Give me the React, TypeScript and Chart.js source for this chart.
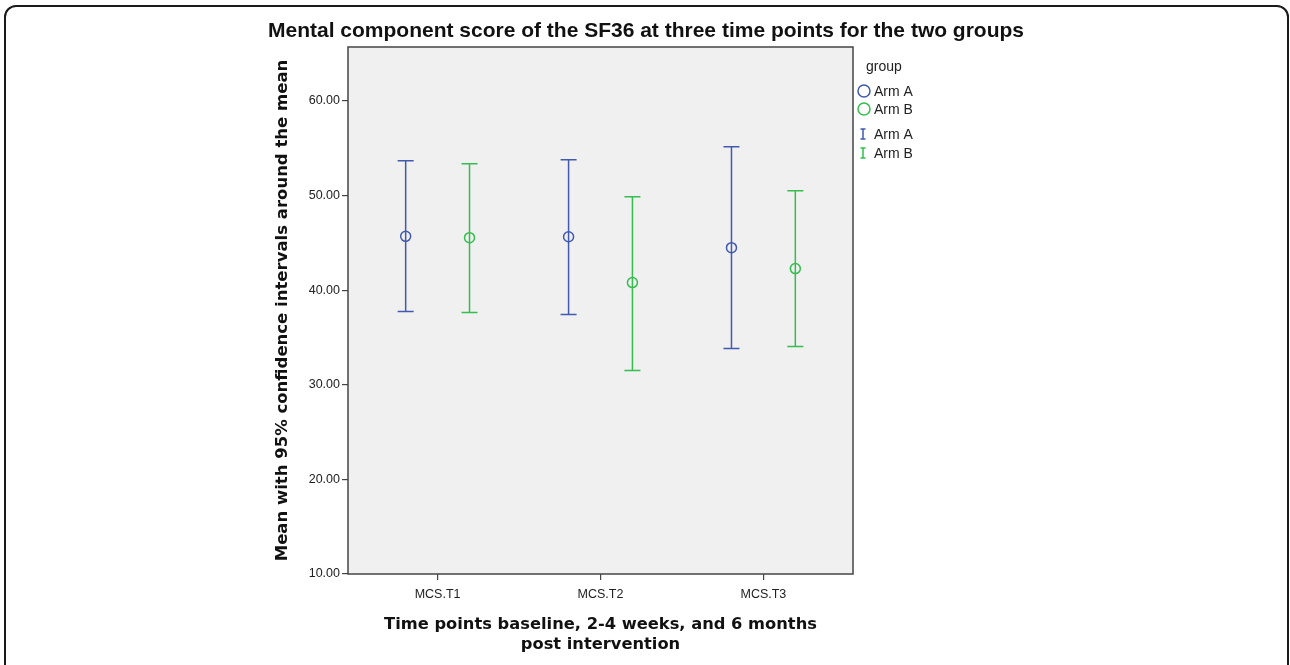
import React, { useEffect, useRef } from 'react';
import { Chart, registerables } from 'chart.js';

Chart.register(...registerables);

const categories = ['MCS.T1', 'MCS.T2', 'MCS.T3'];
const groups = ['Arm A', 'Arm B'];
const armAMean = [45.69, 45.65, 44.49];
const armALower = [37.74, 37.43, 33.84];
const armAUpper = [53.67, 53.78, 55.15];
const armBMean = [45.55, 40.8, 42.28];
const armBLower = [37.64, 31.52, 34.05];
const armBUpper = [53.35, 49.87, 50.51];
const yTicks = [10, 20, 30, 40, 50, 60];

const chartTitle = 'Mental component score of the SF36 at three time points for the two groups';
const xTitle = ['Time points baseline, 2-4 weeks, and 6 months', 'post intervention'];
const yTitle = 'Mean with 95% confidence intervals around the mean';
const legendTitle = 'group';

const BLUE = '#4259b0';
const GREEN = '#35bd4e';
const GROUP_OFFSET = 0.196;
const AXIS_FONT = '"Liberation Sans", Arial, sans-serif';
const BOLD_FONT = '"DejaVu Sans", Verdana, sans-serif';

const errorBarPlugin = {
  id: 'errorBars',
  beforeDraw(chart: any) {
    const { ctx, chartArea } = chart;
    ctx.save();
    ctx.fillStyle = '#f0f0f0';
    ctx.fillRect(chartArea.left, chartArea.top, chartArea.right - chartArea.left, chartArea.bottom - chartArea.top);
    ctx.restore();
  },
  beforeDatasetsDraw(chart: any) {
    const { ctx } = chart;
    const xs = chart.scales.x;
    const ys = chart.scales.y;
    ctx.save();
    chart.data.datasets.forEach((ds: any) => {
      ctx.strokeStyle = ds.borderColor;
      ctx.lineWidth = 1.5;
      ds.data.forEach((p: any) => {
        const px = xs.getPixelForValue(p.x);
        const pLo = ys.getPixelForValue(p.lo);
        const pHi = ys.getPixelForValue(p.hi);
        ctx.beginPath();
        ctx.moveTo(px, pLo);
        ctx.lineTo(px, pHi);
        ctx.moveTo(px - 8, pLo);
        ctx.lineTo(px + 8, pLo);
        ctx.moveTo(px - 8, pHi);
        ctx.lineTo(px + 8, pHi);
        ctx.stroke();
      });
    });
    ctx.restore();
  },
  afterDraw(chart: any) {
    const { ctx, chartArea } = chart;
    ctx.save();
    // plot frame
    ctx.strokeStyle = '#444';
    ctx.lineWidth = 1.5;
    ctx.strokeRect(chartArea.left, chartArea.top, chartArea.right - chartArea.left, chartArea.bottom - chartArea.top);

    // main title
    ctx.fillStyle = '#111';
    ctx.font = 'bold 21px ' + AXIS_FONT;
    ctx.textAlign = 'center';
    ctx.textBaseline = 'middle';
    ctx.fillText(chartTitle, chart.width / 2 + 1, 31);

    // legend
    const r = chartArea.right;
    const t = chartArea.top;
    ctx.textAlign = 'left';
    ctx.font = '14px ' + AXIS_FONT;
    ctx.fillStyle = '#222';
    ctx.fillText(legendTitle, r + 13, t + 20);
    const colors = [BLUE, GREEN];
    const circleY = [t + 44, t + 62];
    const barY = [t + 87, t + 106];
    groups.forEach((g, i) => {
      ctx.strokeStyle = colors[i];
      ctx.lineWidth = 1.5;
      ctx.beginPath();
      ctx.arc(r + 11, circleY[i], 6, 0, Math.PI * 2);
      ctx.stroke();
      ctx.fillStyle = '#222';
      ctx.font = '14px ' + AXIS_FONT;
      ctx.fillText(g, r + 21, circleY[i] + 1);
    });
    groups.forEach((g, i) => {
      const y = barY[i];
      ctx.strokeStyle = colors[i];
      ctx.lineWidth = 1.5;
      ctx.beginPath();
      ctx.moveTo(r + 10, y - 5);
      ctx.lineTo(r + 10, y + 5);
      ctx.moveTo(r + 7.5, y - 5);
      ctx.lineTo(r + 12.5, y - 5);
      ctx.moveTo(r + 7.5, y + 5);
      ctx.lineTo(r + 12.5, y + 5);
      ctx.stroke();
      ctx.fillStyle = '#222';
      ctx.fillText(g, r + 21, y + 1);
    });
    ctx.restore();
  },
};

export default function App() {
  const canvasRef = useRef<HTMLCanvasElement | null>(null);

  useEffect(() => {
    if (!canvasRef.current) return;
    const makeData = (mean: number[], lo: number[], hi: number[], off: number) =>
      mean.map((v, i) => ({ x: i + 1 + off, y: v, lo: lo[i], hi: hi[i] }));

    const chart = new Chart(canvasRef.current, {
      type: 'scatter',
      data: {
        datasets: [
          {
            label: groups[0],
            data: makeData(armAMean, armALower, armAUpper, -GROUP_OFFSET),
            borderColor: BLUE,
            backgroundColor: 'rgba(0,0,0,0)',
            pointRadius: 5,
            pointBorderWidth: 1.5,
          },
          {
            label: groups[1],
            data: makeData(armBMean, armBLower, armBUpper, GROUP_OFFSET),
            borderColor: GREEN,
            backgroundColor: 'rgba(0,0,0,0)',
            pointRadius: 5,
            pointBorderWidth: 1.5,
          },
        ] as any,
      },
      options: {
        responsive: false,
        animation: false,
        layout: { padding: { left: 269, right: 437, top: 47, bottom: 0 } },
        plugins: {
          legend: { display: false },
          tooltip: { enabled: false },
          title: { display: false },
        },
        scales: {
          x: {
            type: 'linear',
            min: 0.45,
            max: 3.55,
            afterBuildTicks: (scale: any) => {
              scale.ticks = categories.map((_, i) => ({ value: i + 1 }));
            },
            afterFit: (scale: any) => {
              scale.height = 91;
            },
            border: { display: false },
            grid: { drawOnChartArea: false, drawTicks: true, tickLength: 6, color: '#444', lineWidth: 1.2 },
            ticks: {
              padding: 7,
              color: '#222',
              font: { family: AXIS_FONT, size: 12.5 },
              autoSkip: false,
              maxRotation: 0,
              callback: (v: any) => categories[Math.round(Number(v)) - 1] ?? '',
            },
            title: {
              display: true,
              text: xTitle,
              color: '#111',
              font: { family: BOLD_FONT, size: 16.3, weight: 'bold', lineHeight: 1.23 },
              padding: { top: 4, bottom: 10 },
            },
          },
          y: {
            type: 'linear',
            min: 10,
            max: 65.7,
            afterBuildTicks: (scale: any) => {
              scale.ticks = yTicks.map((v) => ({ value: v }));
            },
            afterFit: (scale: any) => {
              scale.width = 79;
            },
            border: { display: false },
            grid: { drawOnChartArea: false, drawTicks: true, tickLength: 6, color: '#444', lineWidth: 1.2 },
            ticks: {
              padding: 2,
              color: '#222',
              font: { family: AXIS_FONT, size: 12.5 },
              callback: (v: any) => Number(v).toFixed(2),
            },
            title: {
              display: true,
              text: yTitle,
              color: '#111',
              font: { family: BOLD_FONT, size: 16.5, weight: 'bold' },
              padding: { top: 4, bottom: 4 },
            },
          },
        },
      },
      plugins: [errorBarPlugin],
    });
    return () => chart.destroy();
  }, []);

  return (
    <div style={{ position: 'absolute', left: 0, top: 0, width: 1290, height: 665, overflow: 'hidden', background: '#fff' }}>
      <div
        style={{
          position: 'absolute',
          left: 4,
          top: 5,
          width: 1285,
          height: 740,
          boxSizing: 'border-box',
          border: '2px solid #1a1a1a',
          borderRadius: 12,
        }}
      />
      <canvas ref={canvasRef} width={1290} height={665} style={{ position: 'absolute', left: 0, top: 0 }} />
    </div>
  );
}
